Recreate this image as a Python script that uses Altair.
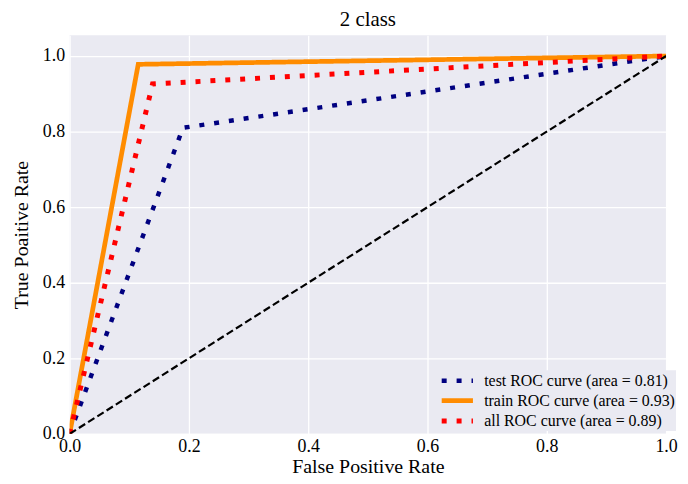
import altair as alt
import pandas as pd

# ---- data ----
series = [
    "test ROC curve (area = 0.81)",
    "train ROC curve (area = 0.93)",
    "all ROC curve (area = 0.89)",
]
test_fpr = [0.0, 0.19, 1.0]
test_tpr = [0.0, 0.81, 1.0]
train_fpr = [0.0, 0.115, 1.0]
train_tpr = [0.0, 0.978, 1.0]
all_fpr = [0.0, 0.139, 1.0]
all_tpr = [0.0, 0.926, 1.0]
diag_x = [0.0, 1.0]
diag_y = [0.0, 1.0]
ticks = [0.0, 0.2, 0.4, 0.6, 0.8, 1.0]

colors = ["#000080", "#FF8C00", "#FF0000"]
dashes = [[5, 10], [1, 0], [5, 10]]
widths = [4.5, 5, 4.5]

FONT = "Liberation Serif"
BG = "#EAEAF2"

curves = {
    series[0]: (test_fpr, test_tpr),
    series[1]: (train_fpr, train_tpr),
    series[2]: (all_fpr, all_tpr),
}

xs = alt.Scale(domain=[0, 1], nice=False, zero=False)
ys = alt.Scale(domain=[0, 1.055], nice=False, zero=False)

legend = alt.Legend(
    title=None,
    orient="none",
    legendX=379,
    legendY=337,
    symbolType="M-1.95,0H1.95",
    symbolSize=260,
    labelFont=FONT,
    labelFontSize=16,
    labelColor="#000000",
    labelOffset=16,
    labelLimit=0,
    rowPadding=0,
    padding=0,
    fillColor=BG,
)

layers = []
for name, (fx, fy) in curves.items():
    df = pd.DataFrame({"fpr": fx, "tpr": fy, "series": name, "i": range(len(fx))})
    layers.append(
        alt.Chart(df)
        .mark_line(clip=True, strokeCap="butt")
        .encode(
            x=alt.X("fpr:Q", scale=xs, title="False Positive Rate",
                    axis=alt.Axis(values=ticks, format=".1f")),
            y=alt.Y("tpr:Q", scale=ys, title="True Poaitive Rate",
                    axis=alt.Axis(values=ticks, format=".1f")),
            order="i:O",
            color=alt.Color("series:N", scale=alt.Scale(domain=series, range=colors), legend=legend),
            strokeDash=alt.StrokeDash("series:N", scale=alt.Scale(domain=series, range=dashes), legend=legend),
            strokeWidth=alt.StrokeWidth("series:N", scale=alt.Scale(domain=series, range=widths), legend=legend),
        )
    )

diag_df = pd.DataFrame({"fpr": diag_x, "tpr": diag_y})
diag = (
    alt.Chart(diag_df)
    .mark_line(color="black", strokeDash=[7.5, 3.5], strokeWidth=2.2, clip=True, strokeCap="butt")
    .encode(x=alt.X("fpr:Q", scale=xs), y=alt.Y("tpr:Q", scale=ys))
)

chart = (
    alt.layer(*layers, diag)
    .properties(
        width=600,
        height=401,
        padding={"left": 62, "top": 26, "right": 14, "bottom": 46},
        autosize="none",
        title=alt.TitleParams("2 class", font=FONT, fontSize=21, fontWeight="normal",
                              color="#000000", offset=5),
    )
    .configure_view(fill=BG, stroke=None)
    .configure_axis(
        domain=False,
        ticks=False,
        grid=True,
        gridColor="#FFFFFF",
        gridWidth=1.3,
        labelFlush=False,
        labelFont=FONT,
        labelFontSize=18,
        labelColor="#000000",
        titleFont=FONT,
        titleFontSize=20,
        titleFontWeight="normal",
        titleColor="#000000",
    )
    .configure_axisX(labelPadding=4, titlePadding=1)
    .configure_axisY(labelPadding=5, titlePadding=11)
)

chart.save("out.html", embed_options={"renderer": "svg", "actions": False})
